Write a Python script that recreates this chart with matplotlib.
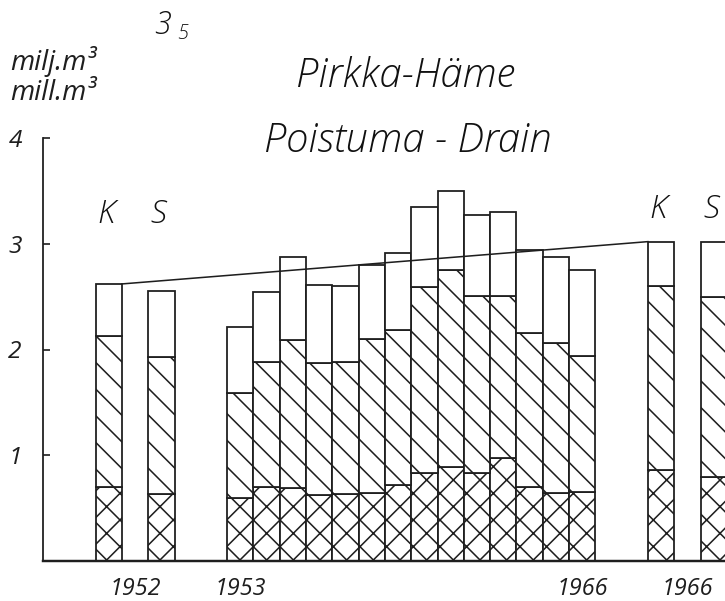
import numpy as np
import matplotlib
matplotlib.use('Agg')
import matplotlib.pyplot as plt

# values (million m3), three stacked parts per bar
years = ['1953', '1954', '1955', '1956', '1957', '1958', '1959',
         '1960', '1961', '1962', '1963', '1964', '1965', '1966']
cross_part = [0.60, 0.70, 0.69, 0.62, 0.63, 0.64, 0.72, 0.83, 0.89, 0.83, 0.97, 0.70, 0.64, 0.65]
hatch_part = [0.99, 1.18, 1.40, 1.25, 1.25, 1.46, 1.46, 1.76, 1.86, 1.68, 1.54, 1.46, 1.42, 1.29]
white_part = [0.62, 0.66, 0.78, 0.74, 0.72, 0.70, 0.73, 0.76, 0.75, 0.76, 0.79, 0.78, 0.81, 0.81]

# K / S comparison bars for 1952 and 1966
ks_labels = ['K', 'S', 'K', 'S']
ks_cross = [0.70, 0.63, 0.86, 0.79]
ks_hatch = [1.43, 1.30, 1.74, 1.71]
ks_white = [0.49, 0.62, 0.42, 0.52]

xtick_labels = ['1952', '1953', '1966', '1966']
yticks = [1, 2, 3, 4]

# slot positions (left edges) of the bars
ks_pos = np.array([2, 4, 23, 25])
yr_pos = np.arange(7, 7 + len(years))

W, H, DPI = 725, 601, 80
INK = '#1e1e1e'
plt.rcParams['hatch.linewidth'] = 1.4
plt.rcParams['hatch.color'] = INK
# pen lettering: light face for the big text, regular for the small
BIG = dict(family='Open Sans', style='italic', weight='light', color='#111111')
SMALL = dict(family='Open Sans', style='italic', weight='normal', color=INK)

fig = plt.figure(figsize=(W / DPI, H / DPI), dpi=DPI)
ax = fig.add_axes([43 / W, (H - 561) / H, (W - 43) / W, (561 - 138) / H])

pos = np.concatenate([ks_pos, yr_pos])
c = np.array(ks_cross + cross_part)
h = np.array(ks_hatch + hatch_part)
w = np.array(ks_white + white_part)
kw = dict(width=1, align='edge', edgecolor=INK, linewidth=1.6, zorder=2)
ax.bar(pos, c, color='white', hatch='x', **kw)
ax.bar(pos, h, bottom=c, color='white', hatch='\\', **kw)
ax.bar(pos, w, bottom=c + h, color='white', **kw)

# line joining the K totals of 1952 and 1966
k_tot = [ks_cross[i] + ks_hatch[i] + ks_white[i] for i in (0, 2)]
ax.plot([ks_pos[0] + 1, ks_pos[2]], k_tot, color=INK, lw=1.4, zorder=3)

ax.set_xlim(0, (W - 43) / 26.3)
ax.set_ylim(0, 4)
for s in ['top', 'right']:
    ax.spines[s].set_visible(False)
ax.spines['left'].set_linewidth(1.6)
ax.spines['bottom'].set_linewidth(2.2)
ax.spines['left'].set_color(INK)
ax.spines['bottom'].set_color(INK)
ax.set_yticks(yticks)
ax.set_yticklabels([str(t) for t in yticks], fontsize=22, **SMALL)
ax.tick_params(axis='y', direction='in', length=6, width=1.5, color=INK, pad=19)
ax.set_xticks([3.5, 7.5, 20.5, 24.5])
ax.set_xticklabels(xtick_labels, fontsize=21, **SMALL)
ax.tick_params(axis='x', length=0, pad=14)

for p, lab, yy in zip(ks_pos, ks_labels, [3.2, 3.2, 3.24, 3.24]):
    ax.text(p + 0.4, yy, lab, ha='center', va='baseline', fontsize=29, **BIG)

fig.text(154 / W, 1 - 34 / H, '3', fontsize=28, ha='left', va='baseline', **BIG)
fig.text(177 / W, 1 - 39 / H, '5', fontsize=18, ha='left', va='baseline', **BIG)
fig.text(10 / W, 1 - 70 / H, 'milj.m³', fontsize=25, ha='left', va='baseline', **SMALL)
fig.text(10 / W, 1 - 100 / H, 'mill.m³', fontsize=25, ha='left', va='baseline', **SMALL)
fig.text(405 / W, 1 - 87 / H, 'Pirkka-Häme', fontsize=36, ha='center', va='baseline', **BIG)
fig.text(408 / W, 1 - 152 / H, 'Poistuma - Drain', fontsize=36, ha='center', va='baseline', **BIG)

fig.savefig('out.png', dpi=DPI, facecolor='white')
